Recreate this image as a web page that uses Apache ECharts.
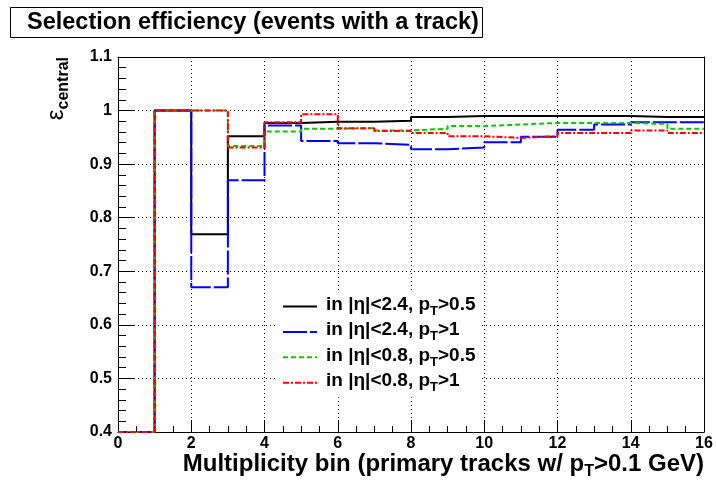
<!DOCTYPE html>
<html><head><meta charset="utf-8">
<script src="https://cdn.jsdelivr.net/npm/echarts@6/dist/echarts.min.js"></script>
<style>html,body{margin:0;padding:0;background:#fff}#c{width:716px;height:490px}</style>
</head><body><div id="c"></div>
<script>
const binStarts = [0,1,2,3,4,5,6,7,8,9,10,11,12,13,14,15];
const xMax = 16;
const seriesNames = ['in |η|<2.4, pT>0.5','in |η|<2.4, pT>1','in |η|<0.8, pT>0.5','in |η|<0.8, pT>1'];
const effBlack = [0.4,1.0,0.769,0.952,0.977,0.979,0.979,0.981,0.988,0.990,0.990,0.990,0.990,0.990,0.988,0.988];
const effBlue  = [0.4,1.0,0.670,0.870,0.972,0.943,0.939,0.936,0.928,0.931,0.941,0.951,0.964,0.974,0.978,0.978];
const effGreen = [0.4,1.0,1.0,0.934,0.961,0.966,0.967,0.963,0.966,0.971,0.974,0.977,0.977,0.977,0.975,0.966];
const effRed   = [0.4,1.0,1.0,0.931,0.978,0.993,0.967,0.962,0.958,0.952,0.949,0.952,0.958,0.958,0.963,0.958];
const yTicks = [0.4,0.5,0.6,0.7,0.8,0.9,1,1.1];
const xTicks = [0,2,4,6,8,10,12,14,16];

const FONT = "'Liberation Sans', Arial, sans-serif";
const W = 716, H = 490;
const GRID = {left:118, right:12, top:57, bottom:58};
const gridW = W - GRID.left - GRID.right, gridH = H - GRID.top - GRID.bottom;
const yMin = 0.4, yMax = 1.1;
const Y_MAJOR_LEN = 16, Y_MINOR_LEN = 8, X_MAJOR_LEN = 12, X_MINOR_LEN = 6;

function stepData(vals){
  const d = binStarts.map((x,i)=>[x, vals[i]]);
  d.push([xMax, vals[vals.length-1]]);
  return d;
}
const styles = [
  {color:'#000000', type:'solid'},
  {color:'#0000ff', type:[24,3]},
  {color:'#00cc00', type:[5,3]},
  {color:'#ff0000', type:[6,2,2,2]}
];
const allVals = [effBlack, effBlue, effGreen, effRed];
const series = allVals.map((v,i)=>({
  name: seriesNames[i], type:'line', step:'end', data: stepData(v),
  symbol:'none', showSymbol:false,
  lineStyle:{color:styles[i].color, width:2, type:styles[i].type},
  itemStyle:{color:styles[i].color},
  z: 2+i
}));

// inward tick marks (ROOT style), placed at the axis tick values via markLine
const xUnitsPerPx = xMax / gridW, yUnitsPerPx = (yMax - yMin) / gridH;
const tickPairs = [];
for (let i = 0; i < yTicks.length; i++) {
  const y = yTicks[i];
  tickPairs.push([{coord:[0, y]}, {coord:[Y_MAJOR_LEN*xUnitsPerPx, y]}]);
  if (i < yTicks.length - 1) {
    for (let k = 1; k < 5; k++) {
      const ym = y + k*(yTicks[i+1]-y)/5;
      tickPairs.push([{coord:[0, ym]}, {coord:[Y_MINOR_LEN*xUnitsPerPx, ym]}]);
    }
  }
}
for (let i = 0; i < xTicks.length; i++) {
  const x = xTicks[i];
  tickPairs.push([{coord:[x, yMin]}, {coord:[x, yMin + X_MAJOR_LEN*yUnitsPerPx]}]);
  if (i < xTicks.length - 1) {
    for (let k = 1; k < 4; k++) {
      const xm = x + k*(xTicks[i+1]-x)/4;
      tickPairs.push([{coord:[xm, yMin]}, {coord:[xm, yMin + X_MINOR_LEN*yUnitsPerPx]}]);
    }
  }
}
series.push({
  name:'ticks', type:'line', data:[], symbol:'none', silent:true, z:1,
  markLine:{silent:true, symbol:['none','none'], animation:false, precision:6,
    label:{show:false}, lineStyle:{color:'#000', width:1, type:'solid'},
    emphasis:{disabled:true}, data: tickPairs}
});

const chart = echarts.init(document.getElementById('c'), null, {renderer:'canvas'});
chart.setOption({
  animation:false,
  backgroundColor:'#fff',
  grid:Object.assign({show:false}, GRID),
  xAxis:[{type:'value', min:0, max:xMax, interval:2, position:'bottom',
    axisLine:{show:true, onZero:false, lineStyle:{color:'#000', width:1}},
    axisTick:{show:false},
    splitLine:{show:true, lineStyle:{color:'#000', type:[1,3], width:1}},
    axisLabel:{show:true, fontFamily:FONT, fontWeight:'bold', fontSize:16, color:'#000', margin:4,
      formatter:(v)=> xTicks.includes(v) ? String(v) : ''}
  },{type:'value', min:0, max:xMax, interval:2, position:'top',
    axisLine:{show:true, onZero:false, lineStyle:{color:'#000', width:1}},
    axisTick:{show:false}, axisLabel:{show:false}, splitLine:{show:false}
  }],
  yAxis:[{type:'value', min:yMin, max:yMax, interval:0.1, position:'left',
    axisLine:{show:true, onZero:false, lineStyle:{color:'#000', width:1}},
    axisTick:{show:false},
    splitLine:{show:true, lineStyle:{color:'#000', type:[1,3], width:1}},
    axisLabel:{show:true, fontFamily:FONT, fontWeight:'bold', fontSize:16, color:'#000', margin:6,
      formatter:(v)=>{ const r = Math.round(v*10)/10; return yTicks.includes(r) ? String(r) : ''; }}
  },{type:'value', min:yMin, max:yMax, interval:0.1, position:'right',
    axisLine:{show:true, onZero:false, lineStyle:{color:'#000', width:1}},
    axisTick:{show:false}, axisLabel:{show:false}, splitLine:{show:false}
  }],
  legend:{
    orient:'vertical', left:275, top:292, padding:[3,6,3,7], itemGap:2.4,
    backgroundColor:'#fff', itemWidth:34, itemHeight:14, z:20,
    itemStyle:{color:'transparent', borderColor:'transparent', borderWidth:0},
    data: seriesNames,
    formatter:(n)=>{ const p = n.split('pT'); return '{a|'+p[0]+'p}{s|T}{a|'+p[1]+'}'; },
    textStyle:{ color:'#000', padding:[0,0,0,4],
      rich:{ a:{fontFamily:FONT, fontWeight:'bold', fontSize:19, color:'#000', verticalAlign:'top'},
             s:{fontFamily:FONT, fontWeight:'bold', fontSize:13, color:'#000', verticalAlign:'top', padding:[10,0,0,0]} } }
  },
  graphic:[
    {type:'rect', shape:{x:10.5, y:7.5, width:472, height:30}, style:{fill:'#fff', stroke:'#000', lineWidth:1}, z:10},
    {type:'text', x:27, y:23, z:11, style:{text:'Selection efficiency (events with a track)', font:"bold 23.5px 'Liberation Sans', Arial, sans-serif", fill:'#000', verticalAlign:'middle', align:'left'}},
    {type:'text', x:704, y:466, z:11, style:{
      text:'{a|Multiplicity bin (primary tracks w/ p}{s|T}{a|>0.1 GeV)}', align:'right', verticalAlign:'middle',
      rich:{ a:{fontFamily:FONT, fontWeight:'bold', fontSize:24, fill:'#000', verticalAlign:'top'},
             s:{fontFamily:FONT, fontWeight:'bold', fontSize:16, fill:'#000', verticalAlign:'top', padding:[12,0,0,0]} }}},
    {type:'text', x:58, y:57, rotation:Math.PI/2, z:11, style:{
      text:'{e|ε}{s|central}', align:'right', verticalAlign:'middle',
      rich:{ e:{fontFamily:FONT, fontSize:24, fill:'#000', verticalAlign:'top'},
             s:{fontFamily:FONT, fontWeight:'bold', fontSize:16, fill:'#000', verticalAlign:'top', padding:[11,0,0,0]} }}}
  ],
  series: series
});
</script></body></html>
